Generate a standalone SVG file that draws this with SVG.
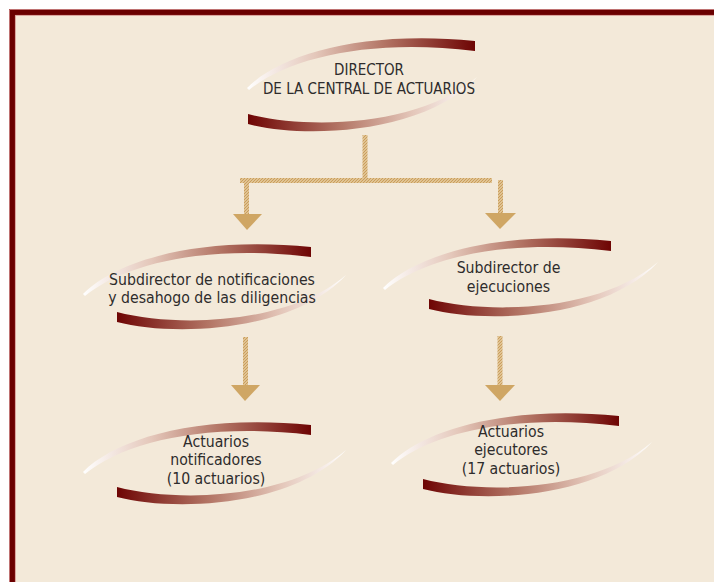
<svg xmlns="http://www.w3.org/2000/svg" width="714" height="582" viewBox="0 0 714 582">
<defs>
<style>
.t{font-family:"DejaVu Sans Condensed","DejaVu Sans",sans-serif;font-stretch:condensed;font-size:15.7px;fill:#2E2C2C;text-anchor:middle}
.d{font-size:15px}
.up{fill:url(#gUp)}
.lo{fill:url(#gLo)}
.hatch{fill:url(#hp)}
.tri{fill:#CFA664}
</style>
<linearGradient id="gUp" x1="0" y1="0" x2="1" y2="0">
<stop offset="0" stop-color="#FFFFFF"/>
<stop offset="0.3" stop-color="#E4C7BA"/>
<stop offset="0.6" stop-color="#B37565"/>
<stop offset="1" stop-color="#6E0504"/>
</linearGradient>
<linearGradient id="gLo" x1="0" y1="0" x2="1" y2="0">
<stop offset="0" stop-color="#6E0504"/>
<stop offset="0.4" stop-color="#B37565"/>
<stop offset="0.72" stop-color="#E4C7BA"/>
<stop offset="1" stop-color="#FFFFFF"/>
</linearGradient>
<pattern id="hp" width="3" height="3" patternUnits="userSpaceOnUse">
<rect width="3" height="3" fill="#EBD5AC"/>
<path d="M-1,1 L1,-1 M0,3 L3,0 M2,4 L4,2" stroke="#C99C5A" stroke-width="1.2"/>
</pattern>
<path id="arcU" d="M0,0 C33,-33 113,-58 228,-47 L228,-37 C123,-50 41,-30 2,2 Z"/>
<path id="arcL" d="M0,0 C62,16 172,12 229,-37 C177,20 57,25 0,10 Z"/>
</defs>
<rect x="0" y="0" width="714" height="582" fill="#FFFFFF"/>
<rect x="10" y="10" width="720" height="600" fill="#6A0000"/>
<rect x="9.5" y="9.5" width="720" height="600" fill="none" stroke="#B05050" stroke-width="0.8"/>
<rect x="15" y="15" width="710" height="590" fill="#F3E9D9"/>
<line x1="15.3" y1="15.3" x2="714" y2="15.3" stroke="#C06060" stroke-width="0.6"/>
<line x1="15.3" y1="15.3" x2="15.3" y2="582" stroke="#C06060" stroke-width="0.6"/>

<g id="connectors">
<rect class="hatch" x="362.5" y="135" width="5" height="46"/>
<rect class="hatch" x="240" y="178" width="252" height="5"/>
<rect class="hatch" x="244" y="181" width="5" height="34"/>
<polygon class="tri" points="233,214 262,214 247,230"/>
<rect class="hatch" x="498" y="180" width="5" height="33"/>
<polygon class="tri" points="485,213 516,213 500,229"/>
<rect class="hatch" x="243" y="337" width="5" height="48"/>
<polygon class="tri" points="231,385 260,385 245,401"/>
<rect class="hatch" x="497.5" y="336" width="5" height="49"/>
<polygon class="tri" points="485,385 515,385 500,401"/>
</g>

<g id="director">
<use href="#arcU" class="up" transform="translate(247,88)"/>
<use href="#arcL" class="lo" transform="translate(248,114)"/>
<text class="t d" x="369" y="75">DIRECTOR</text>
<text class="t d" x="369" y="94">DE LA CENTRAL DE ACTUARIOS</text>
</g>

<g id="subdirector-notificaciones">
<use href="#arcU" class="up" transform="translate(83,294)"/>
<use href="#arcL" class="lo" transform="translate(117,312)"/>
<text class="t" x="212" y="285">Subdirector de notificaciones</text>
<text class="t" x="212" y="303">y desahogo de las diligencias</text>
</g>

<g id="subdirector-ejecuciones">
<use href="#arcU" class="up" transform="translate(383,288)"/>
<use href="#arcL" class="lo" transform="translate(429,299)"/>
<text class="t" x="508.5" y="273">Subdirector de</text>
<text class="t" x="508.5" y="292">ejecuciones</text>
</g>

<g id="actuarios-notificadores">
<use href="#arcU" class="up" transform="translate(83,472)"/>
<use href="#arcL" class="lo" transform="translate(117,487)"/>
<text class="t" x="216" y="447">Actuarios</text>
<text class="t" x="216" y="465">notificadores</text>
<text class="t" x="216" y="484">(10 actuarios)</text>
</g>

<g id="actuarios-ejecutores">
<use href="#arcU" class="up" transform="translate(391,463)"/>
<use href="#arcL" class="lo" transform="translate(423,479)"/>
<text class="t" x="511" y="437">Actuarios</text>
<text class="t" x="511" y="455">ejecutores</text>
<text class="t" x="511" y="474">(17 actuarios)</text>
</g>
</svg>
